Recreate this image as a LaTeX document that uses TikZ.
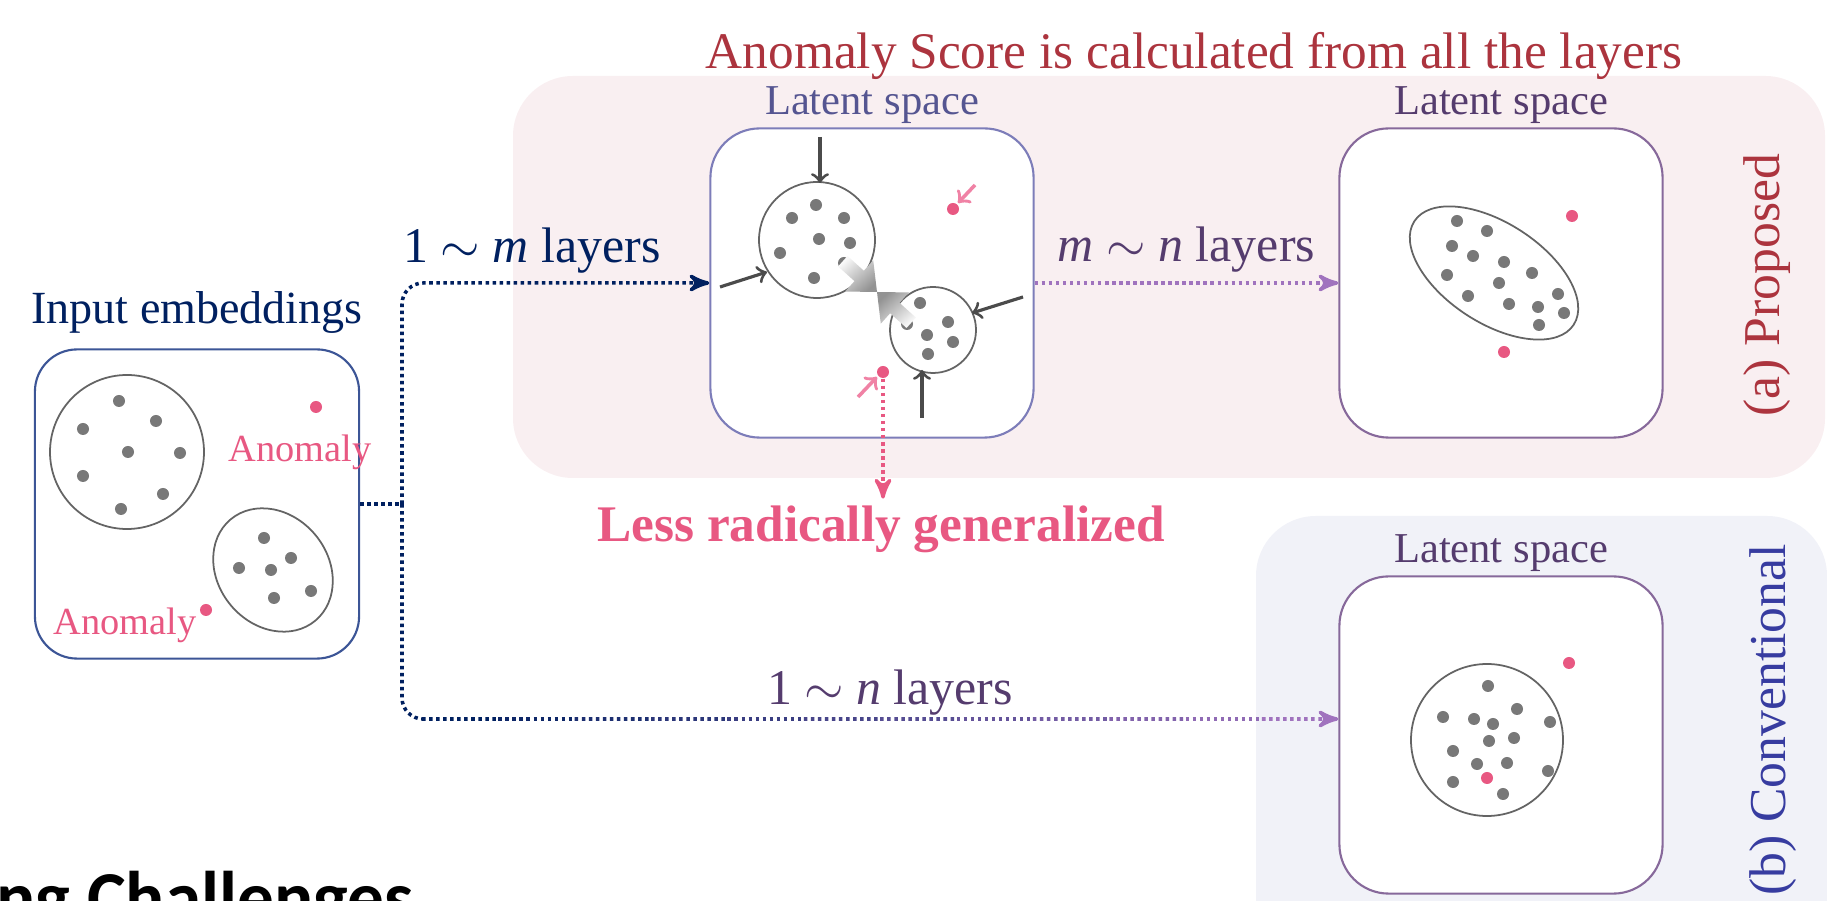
\documentclass[tikz,border=0pt]{standalone}
\usepackage{fontspec}
\setmainfont{Liberation Serif}
\newfontfamily\slidefont{Carlito}
\usetikzlibrary{arrows,positioning,calc}
\definecolor{navyblue}{RGB}{0,32,96}
\definecolor{inputblue}{RGB}{60,85,150}
\definecolor{slateblue}{RGB}{125,125,185}
\definecolor{slatetext}{RGB}{85,85,145}
\definecolor{plum}{RGB}{135,105,155}
\definecolor{plumtext}{RGB}{85,60,110}
\definecolor{lilac}{RGB}{160,115,190}
\definecolor{anompink}{RGB}{232,88,130}
\definecolor{softpink}{RGB}{240,130,165}
\definecolor{dotgray}{RGB}{120,120,120}
\definecolor{rimgray}{RGB}{100,100,100}
\definecolor{arrowgray}{RGB}{75,75,75}
\definecolor{brickred}{RGB}{172,52,62}
\definecolor{royalblue}{RGB}{55,60,160}
\definecolor{proposedtint}{RGB}{249,239,241}
\definecolor{conventint}{RGB}{241,242,248}
\newcommand{\txtsize}[1]{\fontsize{#1}{#1}\selectfont}

\tikzset{
  inputbox/.style={draw=inputblue, line width=0.6pt, fill=white, rounded corners=12pt, minimum width=3.24cm, minimum height=3.09cm},
  latentbox/.style={draw=#1, line width=0.6pt, fill=white, rounded corners=14pt, minimum width=3.23cm, minimum height=3.09cm},
  spacelbl/.style={font=\txtsize{12.1}, inner sep=1pt},
  panellbl/.style={rotate=90, font=\txtsize{14.7}},
  graydot/.style={circle, fill=dotgray, inner sep=0pt, minimum size=0.12cm},
  anomdot/.style={circle, fill=anompink, inner sep=0pt, minimum size=0.12cm},
  rim/.style={draw=rimgray, line width=0.5pt},
  flowline/.style={line width=1pt, dash pattern=on 1pt off 1pt},
  pull/.style={arrowgray, line width=0.9pt, ->},
  push/.style={softpink, line width=1pt, ->}
}

\begin{document}
\begin{tikzpicture}[x=0.01cm, y=-0.01cm]
    \useasboundingbox (0,0) rectangle (1827,901);
    \clip (0,0) rectangle (1827,901);

    % background panels
    \fill[proposedtint, rounded corners=17pt] (513,76) rectangle (1825,478);
    \fill[conventint, rounded corners=17pt] (1256,516) rectangle (1827,960);

    % boxes
    \node[inputbox] (input) at (197,504) {};
    \node[latentbox=slateblue] (latmid) at (872,283) {};
    \node[latentbox=plum] (latprop) at (1501,283) {};
    \node[latentbox=plum, minimum height=3.17cm] (latconv) at (1501,735) {};

    \node[font=\txtsize{13.1}, text=navyblue, inner sep=1pt, above=3pt of input] (inputlbl) {Input embeddings};
    \node[spacelbl, text=slatetext, above=0pt of latmid] (midlbl) {Latent space};
    \node[spacelbl, text=plumtext, above=0pt of latprop] (proplbl) {Latent space};
    \node[spacelbl, text=plumtext, above=0pt of latconv] (convlbl) {Latent space};

    \node[font=\txtsize{14.6}, text=brickred, anchor=base] (scorelbl) at (1194,69) {Anomaly Score is calculated from all the layers};
    \node[panellbl, text=brickred] (proposedlbl) at (1767,285) {(a) Proposed};
    \node[panellbl, text=royalblue] (convlbl2) at (1773,720) {(b) Conventional};

    % input embeddings
    \draw[rim] (127,452) circle (77);
    \draw[rim, rotate around={-50:(273,570)}] (273,570) ellipse (66 and 55);
    \foreach \p in {(119,401),(156,421),(83,429),(128,452),(180,453),(83,476),(163,494),(121,509),
                    (264,538),(291,558),(239,568),(271,570),(311,591),(274,598)}
        \node[graydot] at \p {};
    \node[anomdot] (anomup) at (316,407) {};
    \node[anomdot] (anomlow) at (206,610) {};
    \node[font=\txtsize{10.9}, text=anompink, anchor=base west, inner sep=0pt] at (228,462) {Anomaly};
    \node[font=\txtsize{10.9}, text=anompink, anchor=base west, inner sep=0pt] at (53,635) {Anomaly};

    % 1~m layers
    \draw[rim] (817,240) circle (58);
    \draw[rim] (933,330) circle (43);
    \foreach \p in {(816,205),(792,218),(844,218),(819,239),(850,243),(780,253),(844,263),(814,278),
                    (920,303),(907,324),(948,322),(927,335),(953,342),(928,354)}
        \node[graydot] at \p {};
    \draw[pull] (820,137) -- (820,183);
    \draw[pull] (720,287) -- (767,272);
    \draw[pull] (1023,297) -- (972,313);
    \draw[pull] (922,418) -- (922,370);
    \begin{scope}[shift={(877,292)}, rotate=-42]
        \shade[top color=gray!5, bottom color=gray!85, shading angle=42]
            (-46,-7) -- (-24,-7) -- (-24,-21) -- (0,0) -- (-24,21) -- (-24,7) -- (-46,7) -- cycle;
        \shade[top color=gray!85, bottom color=gray!5, shading angle=42]
            (46,-7) -- (24,-7) -- (24,-21) -- (0,0) -- (24,21) -- (24,7) -- (46,7) -- cycle;
    \end{scope}
    \node[anomdot] (farout) at (953,209) {};
    \node[anomdot] (outlier) at (883,372) {};
    \draw[push] (975,185) -- (958,203);
    \draw[push] (858,397) -- (877,377);

    % m~n layers
    \draw[rim, rotate around={-33:(1494,273)}] (1494,273) ellipse (95 and 50);
    \foreach \p in {(1457,221),(1487,231),(1452,246),(1473,256),(1504,262),(1532,273),(1447,275),
                    (1499,283),(1558,294),(1468,296),(1509,304),(1538,307),(1564,313),(1539,325)}
        \node[graydot] at \p {};
    \node[anomdot] at (1572,216) {};
    \node[anomdot] at (1504,352) {};

    % 1~n layers
    \draw[rim] (1487,740) circle (76);
    \foreach \p in {(1488,686),(1443,717),(1474,719),(1493,724),(1517,709),(1550,722),(1489,741),
                    (1514,738),(1453,751),(1477,764),(1507,763),(1548,771),(1453,782),(1503,794)}
        \node[graydot] at \p {};
    \node[anomdot] at (1487,778) {};
    \node[anomdot] at (1569,663) {};

    % connectors
    \coordinate (split) at (402,504);
    \draw[flowline, navyblue] (input.east) -- (split);
    \draw[flowline, navyblue, rounded corners=6pt, -stealth'] (split) |- (latmid.west);
    \node[font=\txtsize{14.2}, text=navyblue, anchor=base] (mlbl) at (532,263) {1 $\sim$ \textit{m} layers};

    \draw[flowline, lilac, -stealth'] (latmid.east) -- (latprop.west)
        node[midway, above=1.5pt, inner sep=1pt, font=\txtsize{14.2}, text=plumtext] (mnlbl) {\textit{m} $\sim$ \textit{n} layers};

    \coordinate (lowcorner) at (402,719);
    \coordinate (lowstart) at ($(lowcorner)+(20,0)$);
    \coordinate (convin) at (latconv.west |- lowcorner);
    \draw[flowline, navyblue, rounded corners=6pt] (split) -- (lowcorner) -- (lowstart);
    \foreach \i in {0,...,10} {
        \pgfmathtruncatemacro\mixpct{\i*9}
        \draw[flowline, color=lilac!\mixpct!navyblue]
            ($(lowstart)!{\i/12}!(convin)$) -- ($(lowstart)!{(\i+1)/12}!(convin)$);
    }
    \draw[flowline, lilac, -stealth'] ($(lowstart)!{11/12}!(convin)$) -- (convin);
    \node[font=\txtsize{14.2}, text=plumtext, anchor=base] (nlbl) at (890,705) {1 $\sim$ \textit{n} layers};

    \node[font=\bfseries\txtsize{14.6}, text=anompink, anchor=base, inner sep=2pt] (lessgen) at (881,542) {Less radically generalized};
    \draw[flowline, anompink, -stealth'] (outlier.south) -- (outlier.south |- lessgen.north);

    \node[font=\slidefont\bfseries\txtsize{20.8}, anchor=base west, inner sep=0pt] (slidetitle) at (-4,923) {ng Challenges};
\end{tikzpicture}
\end{document}
